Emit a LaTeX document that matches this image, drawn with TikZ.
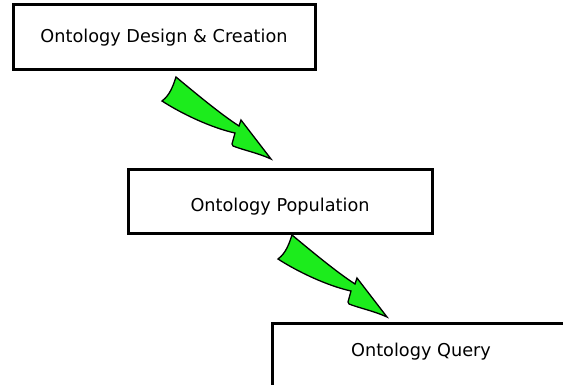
\documentclass[tikz,border=0pt]{standalone}
\usepackage{fontspec}
\setmainfont{DejaVu Sans}
\definecolor{arrowgreen}{RGB}{28,236,28}
\tikzset{
  stagebox/.style={draw=black, line width=3pt, fill=white, inner sep=0pt,
    font=\fontsize{17.7}{20}\selectfont},
  blockarrow/.style={draw=black, line width=1.3pt, fill=arrowgreen, line join=miter},
  labeltext/.style={inner sep=0pt, font=\fontsize{17.7}{20}\selectfont}
}
\newcommand{\bentarrow}{%
  \path[blockarrow] (176,77) .. controls (200,97) and (222,115) .. (239,126)
    -- (241,120) -- (271,159)
    .. controls (258,153) and (243,150) .. (233,146)
    -- (232,144) -- (235,133)
    .. controls (212,128) and (182,114) .. (162,101)
    .. controls (170,95) and (173,86) .. (176,77) -- cycle;}
\begin{document}
\begin{tikzpicture}[x=1pt,y=-1pt]
  \useasboundingbox (0,0) rectangle (563,385);
  \clip (0,0) rectangle (563,385);
  \node[stagebox, minimum width=302pt, minimum height=65pt] (design) at (164,37.5) {Ontology Design \& Creation};
  \node[stagebox, minimum width=304pt, minimum height=64pt] (population) at (280,202) {};
  \node[labeltext] (poptext) at (280,207) {Ontology Population};
  \node[stagebox, minimum width=304pt, minimum height=64pt] (query) at (424,355) {};
  \node[labeltext] (querytext) at (421,352) {Ontology Query};
  \bentarrow
  \begin{scope}[shift={(116,158)}]
    \bentarrow
  \end{scope}
\end{tikzpicture}
\end{document}
